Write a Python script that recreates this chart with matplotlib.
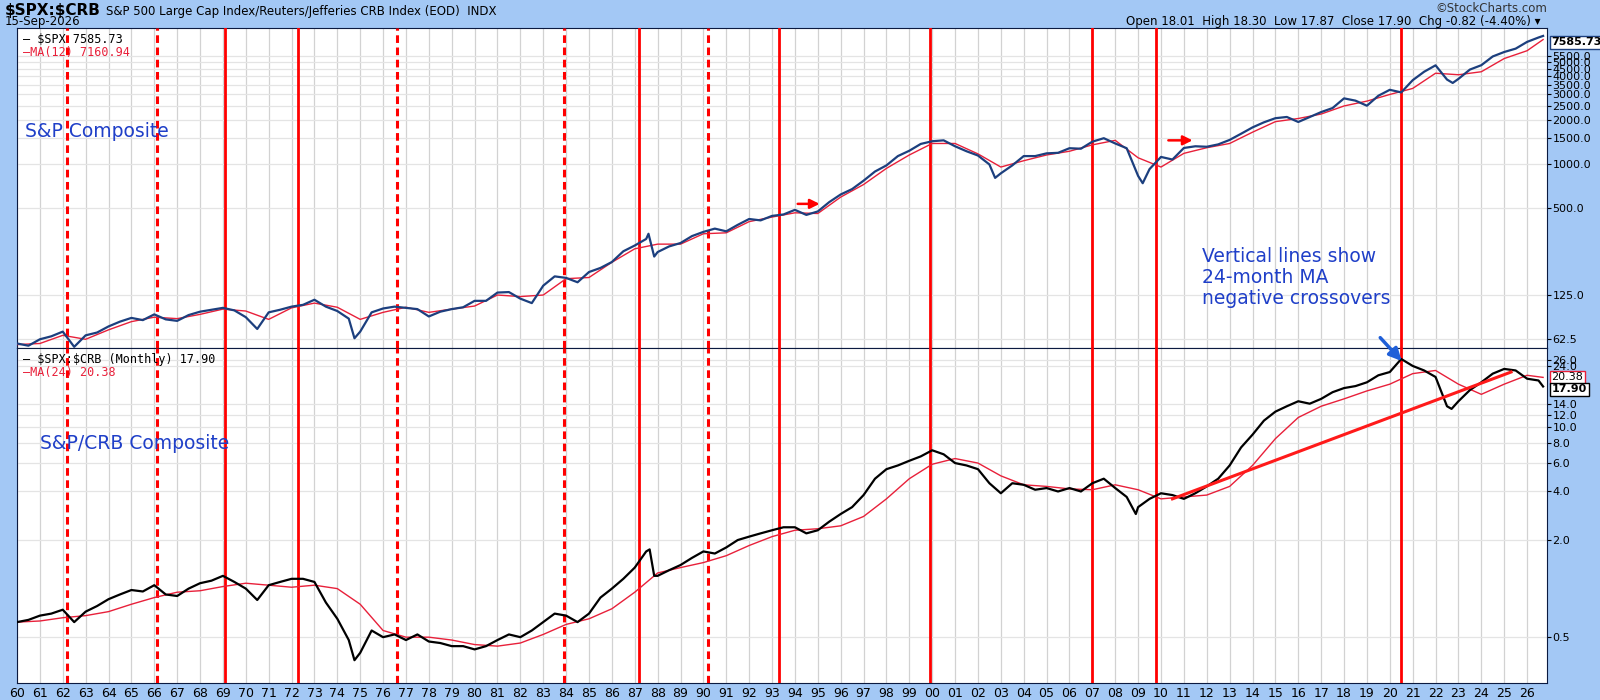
import numpy as np
import matplotlib
matplotlib.use("Agg")
import matplotlib.pyplot as plt
from matplotlib.ticker import FixedLocator, NullLocator, NullFormatter

plt.rcParams['text.parse_math'] = False

# ---------------- data ----------------
half_years = np.arange(1960.0, 2026.51, 0.5)
spx_half = [58, 56, 62, 65, 70, 55, 66, 69, 76, 82, 87, 84, 92, 85, 83, 91, 96, 99, 102, 98,
            88, 73, 95, 99, 104, 107, 116, 104, 97, 86, 70, 95, 101, 104, 102, 100, 89, 96, 100, 103,
            114, 114, 130, 131, 118, 110, 145, 168, 164, 153, 180, 192, 211, 250, 274, 304, 247, 270, 285, 318,
            340, 358, 343, 380, 417, 408, 438, 448, 482, 445, 470, 545, 615, 670, 765, 885, 975, 1130, 1230, 1370,
            1430, 1450, 1320, 1220, 1140, 990, 860, 975, 1130, 1130, 1180, 1190, 1280, 1270, 1420, 1500, 1380, 1280, 825, 920,
            1115, 1070, 1285, 1320, 1310, 1360, 1460, 1610, 1780, 1930, 2060, 2100, 1940, 2100, 2270, 2420, 2820, 2720, 2510, 2940,
            3230, 3100, 3760, 4300, 4760, 3800, 3840, 4450, 4770, 5480, 5880, 6200, 6900, 7400]
spx_extra_dates = [1974.75, 1987.6, 1987.85, 2002.75, 2009.2, 2022.75, 2026.7]
spx_extra_vals = [63, 330, 230, 800, 735, 3600, 7585.73]

ma12_years = list(range(1960, 2027)) + [2026.7]
ma12_vals = [57, 58, 66, 62, 72, 82, 88, 86, 92, 100, 97, 85, 102, 110, 103, 85, 95, 103, 95, 100,
             105, 125, 122, 125, 162, 165, 210, 260, 280, 280, 330, 335, 400, 430, 460, 455, 590, 720, 930, 1150,
             1380, 1380, 1170, 950, 1050, 1150, 1220, 1350, 1450, 1100, 950, 1180, 1290, 1380, 1650, 1950, 2050, 2200, 2500, 2700,
             3000, 3300, 4200, 4100, 4300, 5300, 6000, 7160.94]

ratio_half = [0.62, 0.64, 0.68, 0.70, 0.74, 0.62, 0.72, 0.78, 0.86, 0.92, 0.98, 0.96, 1.05, 0.92, 0.90, 1.00, 1.08, 1.12, 1.20, 1.10,
              1.00, 0.85, 1.05, 1.10, 1.15, 1.15, 1.10, 0.82, 0.65, 0.48, 0.40, 0.55, 0.50, 0.52, 0.48, 0.52, 0.47, 0.46, 0.44, 0.44,
              0.42, 0.44, 0.48, 0.52, 0.50, 0.55, 0.62, 0.70, 0.68, 0.62, 0.70, 0.88, 1.00, 1.15, 1.35, 1.70, 1.20, 1.30, 1.40, 1.55,
              1.70, 1.65, 1.80, 2.00, 2.10, 2.20, 2.30, 2.40, 2.40, 2.20, 2.30, 2.60, 2.90, 3.20, 3.80, 4.80, 5.50, 5.80, 6.20, 6.60,
              7.20, 6.80, 6.00, 5.80, 5.50, 4.50, 3.90, 4.50, 4.40, 4.10, 4.20, 4.00, 4.20, 4.00, 4.50, 4.80, 4.20, 3.70, 3.20, 3.60,
              3.90, 3.80, 3.60, 3.90, 4.30, 4.80, 5.80, 7.50, 9.00, 11.0, 12.5, 13.5, 14.5, 14.0, 15.0, 16.5, 17.5, 18.0, 19.0, 21.0,
              22.0, 26.5, 24.0, 22.5, 20.5, 13.5, 14.5, 17.0, 19.0, 21.5, 23.0, 22.5, 20.0, 19.5]
ratio_extra_dates = [1974.75, 1987.65, 1987.85, 2008.9, 2022.7, 2026.7]
ratio_extra_vals = [0.36, 1.75, 1.20, 2.90, 13.0, 17.90]

ma24_years = list(range(1960, 2027)) + [2026.7]
ma24_vals = [0.62, 0.63, 0.66, 0.68, 0.72, 0.80, 0.88, 0.95, 0.97, 1.03, 1.08, 1.05, 1.02, 1.05, 1.00, 0.80, 0.55, 0.50, 0.50, 0.48,
             0.45, 0.44, 0.46, 0.52, 0.60, 0.65, 0.75, 0.95, 1.25, 1.35, 1.45, 1.60, 1.85, 2.10, 2.30, 2.35, 2.45, 2.80, 3.60, 4.80,
             5.90, 6.40, 6.00, 5.00, 4.40, 4.30, 4.15, 4.10, 4.40, 4.10, 3.60, 3.70, 3.80, 4.30, 5.80, 8.50, 11.5, 13.5, 15.0, 16.8,
             18.5, 21.5, 22.5, 18.5, 16.0, 18.5, 21.0, 20.38]

solid_lines = [1969.1, 1972.3, 1987.2, 1993.3, 1999.9, 2007.0, 2009.8, 2020.5]
dashed_lines = [1962.2, 1966.1, 1976.6, 1983.9, 1990.2]
trend_x = [2010.5, 2025.3]
trend_y = [3.6, 22.0]

top_ticks = [62.5, 125, 500, 1000, 1500, 2000, 2500, 3000, 3500, 4000, 4500, 5000, 5500]
bot_ticks = [0.5, 2.0, 4.0, 6.0, 8.0, 10.0, 12.0, 14.0, 24.0, 26.0]
year_labels = [f"{y % 100:02d}" for y in range(1960, 2027)]

def merge(d1, v1, d2, v2):
    d = np.concatenate([np.asarray(d1, float), np.asarray(d2, float)])
    v = np.concatenate([np.asarray(v1, float), np.asarray(v2, float)])
    o = np.argsort(d)
    return d[o], v[o]

spx_d, spx_v = merge(half_years, spx_half, spx_extra_dates, spx_extra_vals)
rat_d, rat_v = merge(half_years, ratio_half, ratio_extra_dates, ratio_extra_vals)

# ---------------- figure ----------------
BG = "#a3c8f5"
NAVY = "#1c3f7e"
MARED = "#e8203a"
fig = plt.figure(figsize=(16, 7), dpi=100, facecolor=BG)
ax1 = fig.add_axes([17/1600, 1-348/700, 1530/1600, 320/700])
ax2 = fig.add_axes([17/1600, 1-683/700, 1530/1600, 335/700], sharex=ax1)

x0, x1 = 1960.0, 1960 + (1547-17)/22.88
for ax in (ax1, ax2):
    ax.set_facecolor("white")
    ax.set_yscale("log")
    ax.set_xlim(x0, x1)
    ax.xaxis.set_major_locator(FixedLocator(list(range(1960, 2027))))
    ax.xaxis.set_minor_locator(NullLocator())
    ax.grid(True, axis="x", color="#d2d2d2", lw=0.9)
    ax.grid(True, axis="y", color="#e4e4e4", lw=0.9)
    ax.yaxis.tick_right()
    ax.tick_params(axis="y", which="both", labelsize=8, length=3, pad=1, direction="out")
    ax.yaxis.set_minor_formatter(NullFormatter())
    for s in ax.spines.values():
        s.set_color("#0b1a40")
    for xl in solid_lines:
        ax.axvline(xl, color="#ff0000", lw=2, zorder=3)
    for xl in dashed_lines:
        ax.axvline(xl, color="#ff0000", lw=2.2, ls=(0, (2.5, 1.5)), zorder=3)
    ax.set_axisbelow(True)

# top panel
ax1.set_ylim(54, 8600)
ax1.yaxis.set_major_locator(FixedLocator(top_ticks))
ax1.yaxis.set_major_formatter(matplotlib.ticker.FuncFormatter(lambda v, p: f"{v:.1f}"))
ax1.yaxis.set_minor_locator(NullLocator())
ax1.plot(ma12_years, ma12_vals, color=MARED, lw=1, zorder=4)
ax1.plot(spx_d, spx_v, color=NAVY, lw=1.6, zorder=5)
ax1.tick_params(axis="x", labelbottom=False, length=0)

ax1.text(0.004, 0.985, "\u2014 $SPX 7585.73", transform=ax1.transAxes, color="black", fontsize=8.5,
         va="top", family="DejaVu Sans Mono", zorder=6)
ax1.text(0.004, 0.945, "\u2014MA(12) 7160.94", transform=ax1.transAxes, color=MARED, fontsize=8.5,
         va="top", family="DejaVu Sans Mono", zorder=6)
ax1.text(0.005, 0.66, "S&P Composite", transform=ax1.transAxes, color="#1f3fc8", fontsize=13.5, zorder=6)
ax1.annotate("", xy=(1995.2, 530), xytext=(1994.0, 530),
             arrowprops=dict(arrowstyle="-|>", color="red", lw=1.8, mutation_scale=14), zorder=6)
ax1.annotate("", xy=(2011.5, 1450), xytext=(2010.2, 1450),
             arrowprops=dict(arrowstyle="-|>", color="red", lw=1.8, mutation_scale=14), zorder=6)
ax1.text(2011.8, 165, "Vertical lines show\n24-month MA\nnegative crossovers", color="#1f3fc8",
         fontsize=13.5, va="center", linespacing=1.15, zorder=6)
ax1.text(1.003, 0.955, "7585.73", transform=ax1.transAxes, fontsize=8, fontweight="bold", va="center",
         bbox=dict(boxstyle="square,pad=0.15", fc="white", ec=NAVY, lw=1), clip_on=False, zorder=7)

# bottom panel
ax2.set_ylim(0.26, 31)
ax2.yaxis.set_major_locator(FixedLocator(bot_ticks))
ax2.yaxis.set_major_formatter(matplotlib.ticker.FuncFormatter(lambda v, p: f"{v:.1f}"))
ax2.yaxis.set_minor_locator(NullLocator())
ax2.plot(ma24_years, ma24_vals, color=MARED, lw=1, zorder=4)
ax2.plot(rat_d, rat_v, color="black", lw=1.6, zorder=5)
ax2.plot(trend_x, trend_y, color="#ff1a1a", lw=2.2, zorder=6)
ax2.set_xticklabels(year_labels)
ax2.tick_params(axis="x", labelsize=9, length=0, pad=3)

ax2.text(0.004, 0.985, "\u2014 $SPX:$CRB (Monthly) 17.90", transform=ax2.transAxes, color="black", fontsize=8.5,
         va="top", family="DejaVu Sans Mono", zorder=6)
ax2.text(0.004, 0.945, "\u2014MA(24) 20.38", transform=ax2.transAxes, color=MARED, fontsize=8.5,
         va="top", family="DejaVu Sans Mono", zorder=6)
ax2.text(0.015, 0.70, "S&P/CRB Composite", transform=ax2.transAxes, color="#1f3fc8", fontsize=13.5, zorder=6)
ax2.annotate("", xy=(2020.6, 25.0), xytext=(2019.5, 37),
             arrowprops=dict(arrowstyle="-|>", color="#1f5fd8", lw=2.5, mutation_scale=18),
             annotation_clip=False, zorder=8)
ax2.text(1.003, 20.38, "20.38", transform=ax2.get_yaxis_transform(), fontsize=8, va="center",
         bbox=dict(boxstyle="square,pad=0.15", fc="white", ec=MARED, lw=1), clip_on=False, zorder=7)
ax2.text(1.003, 17.2, "17.90", transform=ax2.get_yaxis_transform(), fontsize=8, fontweight="bold", va="center",
         bbox=dict(boxstyle="square,pad=0.15", fc="white", ec="black", lw=1), clip_on=False, zorder=7)

# header
fig.text(5/1600, 1-11/700, "$SPX:$CRB", fontsize=11, fontweight="bold", va="center")
fig.text(106/1600, 1-11/700, "S&P 500 Large Cap Index/Reuters/Jefferies CRB Index (EOD)  INDX", fontsize=8.5, va="center")
fig.text(5/1600, 1-22/700, "15-Sep-2026", fontsize=8.5, va="center")
fig.text(1547/1600, 1-9/700, "\u00a9StockCharts.com", fontsize=8.5, va="center", ha="right", color="#333333")
fig.text(1540/1600, 1-22/700, "Open 18.01  High 18.30  Low 17.87  Close 17.90  Chg -0.82 (-4.40%) \u25be",
         fontsize=8.5, va="center", ha="right")

fig.savefig("out.png", dpi=100, facecolor=BG)
